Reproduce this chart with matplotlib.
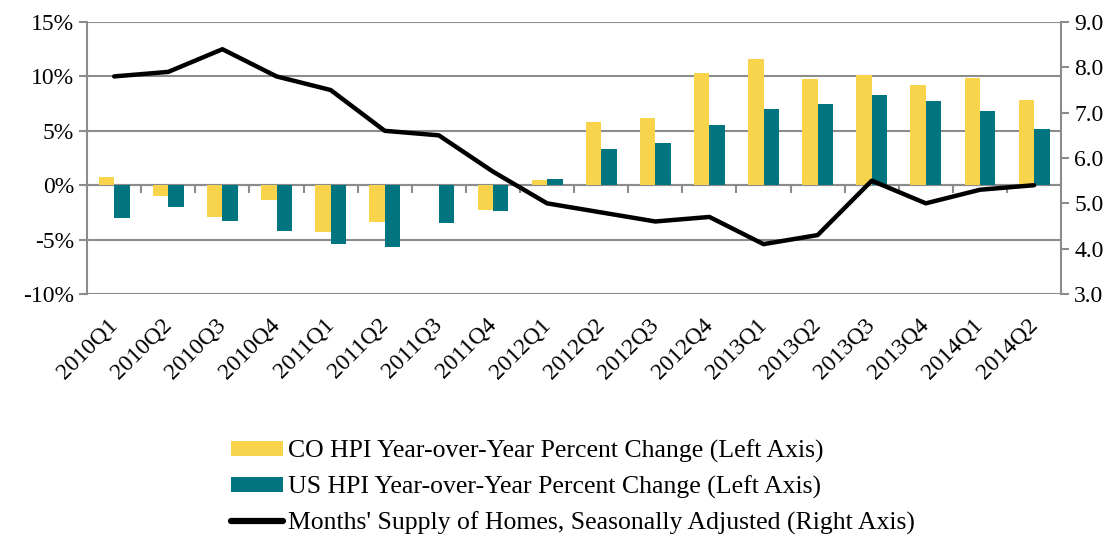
import matplotlib.pyplot as plt
import numpy as np
from matplotlib.ticker import FuncFormatter

plt.rcParams['font.family'] = ['Liberation Serif', 'DejaVu Serif']

quarters = ["2010Q1", "2010Q2", "2010Q3", "2010Q4", "2011Q1", "2011Q2", "2011Q3", "2011Q4",
            "2012Q1", "2012Q2", "2012Q3", "2012Q4", "2013Q1", "2013Q2", "2013Q3", "2013Q4",
            "2014Q1", "2014Q2"]
co_hpi = [0.8, -1.0, -2.9, -1.4, -4.3, -3.4, 0.0, -2.3,
          0.5, 5.8, 6.2, 10.3, 11.6, 9.8, 10.1, 9.2, 9.9, 7.8]
us_hpi = [-3.0, -2.0, -3.3, -4.2, -5.4, -5.7, -3.5, -2.4,
          0.6, 3.3, 3.9, 5.5, 7.0, 7.5, 8.3, 7.7, 6.8, 5.2]
months_supply = [7.8, 7.9, 8.4, 7.8, 7.5, 6.6, 6.5, 5.7,
                 5.0, 4.8, 4.6, 4.7, 4.1, 4.3, 5.5, 5.0, 5.3, 5.4]

yellow = "#F7D44C"
teal = "#00747F"
grid_c = "#8C8C8C"

fig = plt.figure(figsize=(11.17, 5.37), dpi=100)
ax = fig.add_axes([0.078, 0.4525, 0.872, 0.5065])
x = np.arange(len(quarters))
w = 0.285

ax.bar(x - w / 2, co_hpi, w, color=yellow, label="CO HPI Year-over-Year Percent Change (Left Axis)", zorder=2)
ax.bar(x + w / 2, us_hpi, w, color=teal, label="US HPI Year-over-Year Percent Change (Left Axis)", zorder=2)

ax.set_xlim(-0.5, len(quarters) - 0.5)
ax.set_ylim(-10, 15)
ax.set_yticks([-10, -5, 0, 5, 10, 15])
ax.yaxis.set_major_formatter(FuncFormatter(lambda v, p: f"{v:.0f}%"))
ax.yaxis.grid(True, color=grid_c, linewidth=1.5)
ax.set_axisbelow(True)

for s in ["top", "right", "bottom"]:
    ax.spines[s].set_visible(False)
ax.spines["left"].set_color(grid_c)
ax.spines["left"].set_linewidth(1.5)
ax.tick_params(axis="y", colors=grid_c, length=6, width=1.5, labelcolor="black", labelsize=17)

ax.set_xticks(x)
ax.set_xticklabels(quarters, rotation=45, ha="right", va="center", rotation_mode="anchor", fontsize=17)
ax.tick_params(axis="x", length=0, pad=20)

# zero line with category boundary ticks
sec = ax.secondary_xaxis(0.4)
sec.set_xticks(np.arange(0.5, len(quarters) - 1, 1.0))
sec.set_xticklabels([])
sec.spines["bottom"].set_color(grid_c)
sec.spines["bottom"].set_linewidth(1.5)
sec.tick_params(axis="x", colors=grid_c, length=6, width=1.5)

ax2 = ax.twinx()
ax2.plot(x, months_supply, color="black", linewidth=3.2, solid_capstyle="round",
         label="Months' Supply of Homes, Seasonally Adjusted (Right Axis)", zorder=3)
ax2.set_ylim(3, 9)
ax2.set_yticks(np.arange(3, 9.1, 1))
ax2.yaxis.set_major_formatter(FuncFormatter(lambda v, p: f"{v:.1f}"))
for s in ["top", "left", "bottom"]:
    ax2.spines[s].set_visible(False)
ax2.spines["right"].set_color(grid_c)
ax2.spines["right"].set_linewidth(1.5)
ax2.tick_params(axis="y", colors=grid_c, length=6, width=1.5, labelcolor="black", labelsize=17)

h1, l1 = ax.get_legend_handles_labels()
h2, l2 = ax2.get_legend_handles_labels()
leg = fig.legend(h1 + h2, l1 + l2, loc="upper left", bbox_to_anchor=(0.198, 0.2), frameon=False,
                 fontsize=18.5, handlelength=2.0, handleheight=0.5, handletextpad=0.19,
                 labelspacing=0.48, borderaxespad=0)
leg.get_lines()[0].set_linewidth(4.5)

fig.savefig("out.png", dpi=100)
